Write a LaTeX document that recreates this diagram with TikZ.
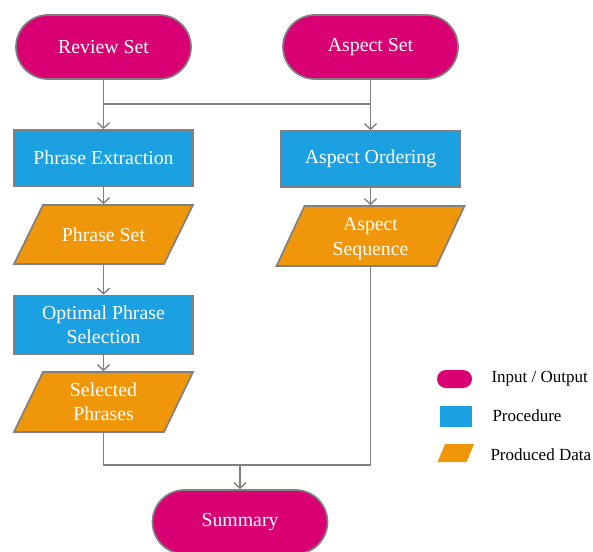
\documentclass[tikz,border=0pt]{standalone}
\usepackage{fontspec}
\setmainfont{Liberation Serif}
\usetikzlibrary{shapes.misc,arrows.meta}
\definecolor{iomag}{HTML}{D80073}
\definecolor{procblue}{HTML}{1BA1E2}
\definecolor{dataorange}{HTML}{F0960A}
\definecolor{edgegray}{HTML}{808080}
\tikzset{
  txt/.style={text=white, font=\fontsize{19.8}{24}\selectfont, align=center, inner sep=2pt},
  base/.style={txt, draw=edgegray, line width=1.7pt},
  iobox/.style={base, rounded rectangle, fill=iomag, minimum width=179pt, minimum height=64pt},
  procbox/.style={base, rectangle, fill=procblue, minimum width=179pt, minimum height=56pt},
  datatext/.style={txt, rectangle, draw=none, outer sep=0.85pt},
  dataframe/.style={fill=dataorange, draw=edgegray, line width=1.7pt, line join=miter},
  conn/.style={draw=edgegray, line width=1.7pt},
  arr/.style={conn, -{Straight Barb[length=5.5pt,width=12pt,line width=1.4pt]}},
  legtext/.style={anchor=west, font=\fontsize{17}{20}\selectfont, text=black},
}
% #1 style, #2 cx, #3 cy, #4 mid width, #5 height, #6 slant
\newcommand\paraldraw[6]{%
  \path[#1] ({#2-#4/2-#6/2},{#3+#5/2}) -- ({#2+#4/2-#6/2},{#3+#5/2})
     -- ({#2+#4/2+#6/2},{#3-#5/2}) -- ({#2-#4/2+#6/2},{#3-#5/2}) -- cycle;}
\begin{document}
\begin{tikzpicture}[x=1pt,y=-1pt]
\useasboundingbox (0,0) rectangle (593,551);
\node[iobox] (review) at (103.5,47) {Review Set};
\node[iobox] (aspset) at (370.5,47) {Aspect Set};
\node[procbox] (phext) at (103.5,158) {Phrase Extraction};
\node[procbox] (asord) at (370.5,159) {Aspect Ordering};
\paraldraw{dataframe}{103.5}{234.5}{150}{59}{29}
\node[datatext, minimum width=150pt, minimum height=59pt] (phset) at (103.5,234.5) {Phrase Set};
\paraldraw{dataframe}{370.5}{236}{160}{60}{28}
\node[datatext, minimum width=160pt, minimum height=60pt, font=\fontsize{19.8}{25}\selectfont, text depth=0pt] (asseq) at (370.5,236) {Aspect\\Sequence};
\node[procbox, minimum height=59pt] (opt) at (103.5,325) {Optimal Phrase\\Selection};
\paraldraw{dataframe}{103.5}{402}{150}{60}{29}
\node[datatext, minimum width=150pt, minimum height=60pt] (selph) at (103.5,402) {Selected\\Phrases};
\node[iobox] (summ) at (240,522) {Summary};
\coordinate (jl) at (103.5,104);
\coordinate (jr) at (370.5,104);
\coordinate (bl) at (103.5,465);
\coordinate (br) at (370.5,465);
\coordinate (bm) at (240,465);
\draw[arr] (review.south) -- (phext.north);
\draw[arr] (aspset.south) -- (asord.north);
\draw[conn] (jl) -- (jr);
\draw[arr] (phext.south) -- (phset.north);
\draw[arr] (phset.south) -- (opt.north);
\draw[arr] (opt.south) -- (selph.north);
\draw[arr] (asord.south) -- (asseq.north);
\draw[conn] (selph.south) -- (bl) -- (br) -- (asseq.south);
\draw[arr] (bm) -- (summ.north);
% legend
\node[rounded rectangle, fill=iomag, minimum width=35pt, minimum height=18pt, inner sep=0pt] (lio) at (454.5,379) {};
\node[rectangle, fill=procblue, minimum width=32pt, minimum height=21pt, inner sep=0pt] (lpr) at (456,416.5) {};
\paraldraw{fill=dataorange}{455.8}{453}{29}{18}{7.5}
\node[inner sep=0pt, minimum width=29pt, minimum height=18pt] (lda) at (455.8,453) {};
\node[legtext] (tio) at (488,379) {Input / Output};
\node[legtext] (tpr) at (489,416) {Procedure};
\node[legtext] (tda) at (487,455) {Produced Data};
\end{tikzpicture}
\end{document}
